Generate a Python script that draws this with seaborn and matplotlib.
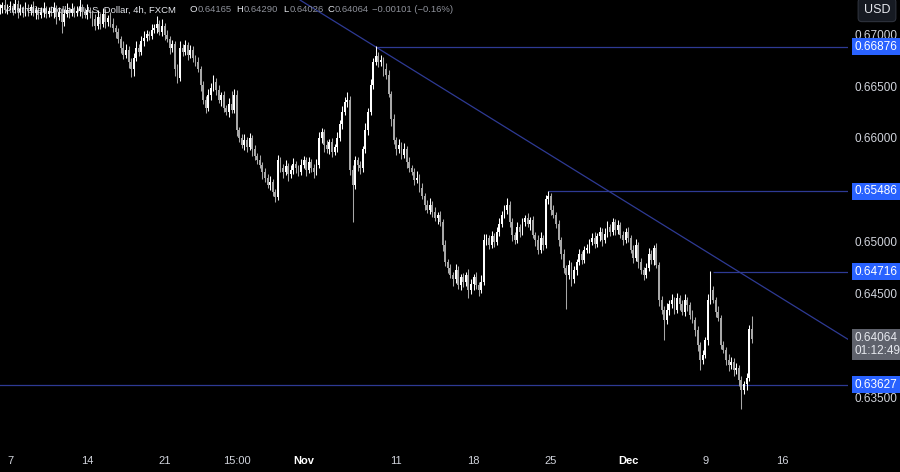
import numpy as np
import matplotlib
matplotlib.use('Agg')
import matplotlib.pyplot as plt
import seaborn as sns

# ---------------------------------------------------------------
# AUD/USD 4h candles (FXCM), bar 0 = Mon Oct 7, 6 bars per day
# opens follow the previous close, wicks in pips (0.0001)
# ---------------------------------------------------------------
first_bar = -4
first_open = 0.6722
closes = [
    0.6725, 0.6728, 0.6723, 0.6726,
    0.6727, 0.6723, 0.6729, 0.6721, 0.6724, 0.6720, 0.6725, 0.6722,
    0.6726, 0.6720, 0.6723, 0.6718, 0.6721, 0.6724, 0.6719, 0.6722,
    0.6720, 0.6725, 0.6716, 0.6721, 0.6712, 0.6719, 0.6723, 0.6720,
    0.6724, 0.6720, 0.6722, 0.6726, 0.6721, 0.6718, 0.6723, 0.6720,
    0.6714, 0.6708, 0.6716, 0.6710, 0.6719, 0.6712, 0.6715, 0.6710,
    0.6706, 0.6702, 0.6695, 0.6687, 0.6680, 0.6685, 0.6673, 0.6666,
    0.6677, 0.6687, 0.6683, 0.6693, 0.6696, 0.6700, 0.6698, 0.6704,
    0.6706, 0.6710, 0.6702, 0.6708, 0.6699, 0.6695, 0.6687, 0.6690,
    0.6666, 0.6658, 0.6687, 0.6683, 0.6689, 0.6680, 0.6685, 0.6677,
    0.6673, 0.6666, 0.6651, 0.6637, 0.6629, 0.6641, 0.6648, 0.6654,
    0.6646, 0.6637, 0.6641, 0.6629, 0.6625, 0.6633, 0.6627, 0.6641,
    0.6608, 0.6600, 0.6593, 0.6598, 0.6591, 0.6600, 0.6589, 0.6583,
    0.6579, 0.6574, 0.6567, 0.6562, 0.6555, 0.6558, 0.6548, 0.6543,
    0.6579, 0.6571, 0.6567, 0.6573, 0.6565, 0.6569, 0.6575, 0.6571,
    0.6567, 0.6574, 0.6579, 0.6569, 0.6577, 0.6571, 0.6567, 0.6574,
    0.6600, 0.6606, 0.6593, 0.6589, 0.6596, 0.6587, 0.6591, 0.6600,
    0.6613, 0.6625, 0.6635, 0.6637, 0.6569, 0.6555, 0.6579, 0.6574,
    0.6571, 0.6589, 0.6608, 0.6625, 0.6651, 0.6673, 0.6679, 0.6673,
    0.6675, 0.6666, 0.6661, 0.6642, 0.6618, 0.6598, 0.6589, 0.6593,
    0.6584, 0.6589, 0.6577, 0.6571, 0.6567, 0.6560, 0.6562, 0.6552,
    0.6544, 0.6536, 0.6531, 0.6536, 0.6529, 0.6523, 0.6526, 0.6519,
    0.6497, 0.6481, 0.6475, 0.6468, 0.6464, 0.6473, 0.6459, 0.6466,
    0.6462, 0.6468, 0.6454, 0.6460, 0.6466, 0.6459, 0.6454, 0.6462,
    0.6502, 0.6504, 0.6497, 0.6506, 0.6500, 0.6510, 0.6517, 0.6526,
    0.6531, 0.6536, 0.6519, 0.6507, 0.6502, 0.6514, 0.6510, 0.6519,
    0.6523, 0.6517, 0.6521, 0.6507, 0.6502, 0.6492, 0.6504, 0.6497,
    0.6541, 0.6544, 0.6531, 0.6526, 0.6517, 0.6502, 0.6488, 0.6475,
    0.6468, 0.6478, 0.6464, 0.6473, 0.6481, 0.6488, 0.6483, 0.6492,
    0.6494, 0.6500, 0.6504, 0.6498, 0.6506, 0.6510, 0.6502, 0.6508,
    0.6514, 0.6510, 0.6519, 0.6512, 0.6516, 0.6507, 0.6502, 0.6510,
    0.6504, 0.6492, 0.6485, 0.6497, 0.6481, 0.6473, 0.6468, 0.6475,
    0.6488, 0.6483, 0.6494, 0.6478, 0.6444, 0.6435, 0.6425, 0.6435,
    0.6440, 0.6444, 0.6435, 0.6446, 0.6440, 0.6433, 0.6444, 0.6439,
    0.6430, 0.6425, 0.6415, 0.6401, 0.6387, 0.6391, 0.6406, 0.6444,
    0.6454, 0.6444, 0.6433, 0.6427, 0.6401, 0.6396, 0.6387, 0.6382,
    0.6385, 0.6377, 0.6379, 0.6367, 0.6358, 0.6363, 0.6369, 0.64165,
    0.64064,
]
upper_wick_pips = [
    4, 3, 6, 3,
    5, 3, 6, 4, 5, 3, 6, 4,
    3, 6, 4, 3, 5, 7, 3, 4,
    5, 6, 3, 5, 4, 5, 7, 3,
    6, 3, 5, 8, 3, 4, 6, 3,
    3, 5, 7, 4, 6, 5, 3, 6,
    5, 3, 4, 3, 6, 5, 3, 4,
    5, 6, 3, 5, 7, 4, 3, 6,
    4, 7, 3, 6, 3, 5, 3, 4,
    3, 5, 6, 3, 5, 3, 4, 3,
    3, 5, 3, 4, 3, 6, 5, 7,
    4, 5, 3, 4, 3, 5, 12, 6,
    5, 3, 4, 6, 3, 5, 3, 4,
    3, 5, 3, 4, 3, 5, 3, 3,
    5, 3, 4, 6, 3, 5, 6, 3,
    3, 6, 4, 3, 5, 3, 4, 6,
    6, 4, 3, 5, 3, 4, 3, 6,
    4, 6, 4, 7, 3, 5, 4, 3,
    4, 3, 6, 4, 6, 4, 9, 4,
    5, 3, 6, 4, 3, 5, 3, 6,
    3, 6, 3, 5, 3, 4, 6, 3,
    5, 3, 4, 6, 3, 5, 3, 4,
    3, 5, 3, 4, 3, 6, 4, 3,
    4, 3, 6, 4, 3, 5, 3, 6,
    6, 4, 3, 5, 3, 4, 6, 4,
    5, 6, 3, 4, 3, 5, 3, 4,
    3, 5, 3, 4, 3, 5, 6, 3,
    4, 5, 3, 5, 3, 4, 3, 5,
    3, 5, 3, 4, 3, 5, 3, 4,
    4, 3, 5, 6, 3, 4, 3, 5,
    6, 3, 4, 3, 5, 3, 4, 3,
    4, 3, 5, 6, 3, 4, 3, 5,
    6, 4, 3, 5, 3, 4, 3, 6,
    4, 6, 3, 5, 3, 4, 6, 3,
    3, 5, 3, 4, 3, 5, 3, 6,
    18, 4, 3, 5, 3, 4, 3, 5,
    4, 3, 5, 3, 4, 3, 5, 4,
    12.5,
]
lower_wick_pips = [
    3, 5, 3, 4,
    3, 5, 3, 6, 3, 4, 3, 5,
    4, 3, 6, 4, 3, 5, 4, 3,
    3, 5, 6, 3, 11, 4, 3, 5,
    3, 4, 3, 5, 6, 3, 4, 5,
    6, 4, 3, 5, 3, 6, 4, 3,
    4, 6, 4, 5, 4, 3, 6, 7,
    6, 3, 4, 3, 5, 3, 4, 3,
    3, 5, 3, 4, 5, 3, 6, 4,
    6, 5, 3, 4, 3, 5, 3, 4,
    4, 3, 6, 4, 5, 3, 4, 3,
    5, 3, 6, 4, 3, 5, 3, 3,
    6, 4, 3, 5, 4, 3, 6, 4,
    4, 3, 6, 4, 3, 5, 4, 5,
    3, 4, 5, 3, 6, 3, 4, 5,
    4, 3, 3, 6, 3, 4, 5, 3,
    3, 5, 6, 3, 4, 5, 3, 4,
    3, 4, 3, 5, 5, 36, 4, 6,
    6, 4, 3, 5, 3, 4, 3, 5,
    4, 6, 4, 3, 6, 4, 5, 3,
    4, 3, 6, 4, 3, 5, 3, 4,
    3, 5, 3, 4, 5, 3, 6, 4,
    6, 4, 5, 3, 6, 3, 4, 5,
    5, 4, 8, 4, 6, 4, 6, 3,
    3, 5, 4, 3, 5, 3, 4, 3,
    3, 4, 5, 6, 4, 3, 5, 3,
    4, 3, 5, 3, 6, 4, 3, 5,
    3, 4, 5, 3, 4, 6, 4, 5,
    32, 4, 6, 3, 5, 3, 4, 3,
    3, 5, 3, 4, 3, 5, 6, 3,
    3, 4, 3, 5, 4, 3, 5, 3,
    4, 3, 5, 3, 6, 4, 5, 3,
    3, 4, 5, 3, 6, 4, 19, 4,
    5, 3, 4, 3, 5, 3, 4, 5,
    4, 3, 5, 6, 10, 4, 3, 5,
    4, 3, 5, 3, 4, 3, 5, 6,
    4, 6, 4, 5, 19, 4, 5, 3,
    3.8,
]

# drawn levels (price, first bar of the line)
level_prices = [0.66876, 0.65486, 0.64716, 0.63627]
level_start_bars = [142, 209, 273, -10]
# descending trendline through two anchors
trend_bars = [142, 325.4]
trend_prices = [0.66876, 0.64064]

price_ticks = [0.635, 0.645, 0.650, 0.660, 0.665, 0.670]
date_tick_bars = [0, 30, 60, 88, 114, 150, 180, 210, 240, 270, 300]
date_tick_labels = ['7', '14', '21', '15:00', 'Nov', '11', '18', '25', 'Dec', '9', '16']

last_price = 0.64064
countdown = '01:12:49'
header_title = 'Australian Dollar / U.S. Dollar, 4h, FXCM'
ohlc_labels = ['O', 'H', 'L', 'C']
ohlc_values = ['0.64165', '0.64290', '0.64026', '0.64064']
change_text = '\u22120.00101 (\u22120.16%)'

# ---------------------------------------------------------------
sns.set_theme(style='dark', rc={
    'figure.facecolor': '#000000',
    'axes.facecolor': '#000000',
    'axes.edgecolor': '#000000',
    'axes.grid': False,
})
plt.rcParams['font.family'] = ['Liberation Sans', 'DejaVu Sans']

closes = np.array(closes)
bars = np.arange(first_bar, first_bar + len(closes))
opens = np.concatenate([[first_open], closes[:-1]])
highs = np.maximum(opens, closes) + np.array(upper_wick_pips) * 1e-4
lows = np.minimum(opens, closes) - np.array(lower_wick_pips) * 1e-4
up = closes >= opens

fig = plt.figure(figsize=(9, 4.72), dpi=100)
ax = fig.add_axes([0, 24 / 472, 848 / 900, 448 / 472])

line_col = '#2e3a94'
x_right = 325.4
for p, b in zip(level_prices, level_start_bars):
    ax.hlines(p, b, x_right + 5, color=line_col, lw=0.9, zorder=1)
ax.axline((trend_bars[0], trend_prices[0]), (trend_bars[1], trend_prices[1]),
          color=line_col, lw=0.9, zorder=1)

up_col, down_col = '#ffffff', '#a8a8a8'
colors = np.where(up, up_col, down_col)
ax.vlines(bars, lows, highs, colors=colors, lw=0.75, zorder=2)
ax.bar(bars, np.maximum(np.abs(closes - opens), 0.00004), bottom=np.minimum(opens, closes),
       width=0.72, color=colors, linewidth=0, zorder=3)

ax.set_xlim(-3.9, x_right)
ax.set_ylim(0.63019, 0.67327)

ax.yaxis.tick_right()
ax.set_yticks(price_ticks)
ax.set_yticklabels([f'{t:.5f}' for t in price_ticks])
ax.tick_params(axis='y', length=0, pad=5, labelsize=8.5, labelcolor='#d1d4dc')
ax.set_xticks(date_tick_bars)
ax.set_xticklabels(date_tick_labels)
ax.tick_params(axis='x', length=0, pad=5.5, labelsize=8, labelcolor='#d1d4dc')
for lab in ax.get_xticklabels():
    if lab.get_text() in ('Nov', 'Dec'):
        lab.set_fontweight('bold')
        lab.set_color('#ffffff')
for s in ax.spines.values():
    s.set_visible(False)

ytrans = ax.get_yaxis_transform()
for p in level_prices:
    ax.annotate(f'{p:.5f}', xy=(1, p), xycoords=ytrans, xytext=(4.5, 0),
                textcoords='offset points', va='center', ha='left', fontsize=8.5,
                color='#ffffff', annotation_clip=False,
                bbox=dict(boxstyle='square,pad=0.22', fc='#2962ff', ec='none'))
ax.annotate(f'{last_price:.5f}\n{countdown}', xy=(1, last_price), xycoords=ytrans,
            xytext=(4.5, 5.5), textcoords='offset points', va='top', ha='left',
            fontsize=8.5, color='#e6e8ee', linespacing=1.15, annotation_clip=False,
            bbox=dict(boxstyle='square,pad=0.22', fc='#5f626c', ec='none'))

# currency box
fig.text(877 / 900, 1 - 10 / 472, 'USD', ha='center', va='center', fontsize=9,
         color='#e6e8ee',
         bbox=dict(boxstyle='round,pad=0.45,rounding_size=0.3', fc='#161a22', ec='#2e323c', lw=0.8))

# legend header (pixel x of each piece as in the reference)
hy = 1 - 10 / 472
hfs = 6.8
fig.text(5 / 900, hy, header_title, ha='left', va='center', fontsize=hfs, color='#e6e8ee')
label_x = [190, 236, 283, 327]
value_x = [198, 244, 290, 335]
for lx, vx, lab, val in zip(label_x, value_x, ohlc_labels, ohlc_values):
    fig.text(lx / 900, hy, lab, ha='left', va='center', fontsize=hfs, color='#e6e8ee')
    fig.text(vx / 900, hy, val, ha='left', va='center', fontsize=hfs, color='#8f929b')
fig.text(372 / 900, hy, change_text, ha='left', va='center', fontsize=hfs, color='#8f929b')

fig.savefig('out.png', dpi=100, facecolor=fig.get_facecolor())
plt.close(fig)
